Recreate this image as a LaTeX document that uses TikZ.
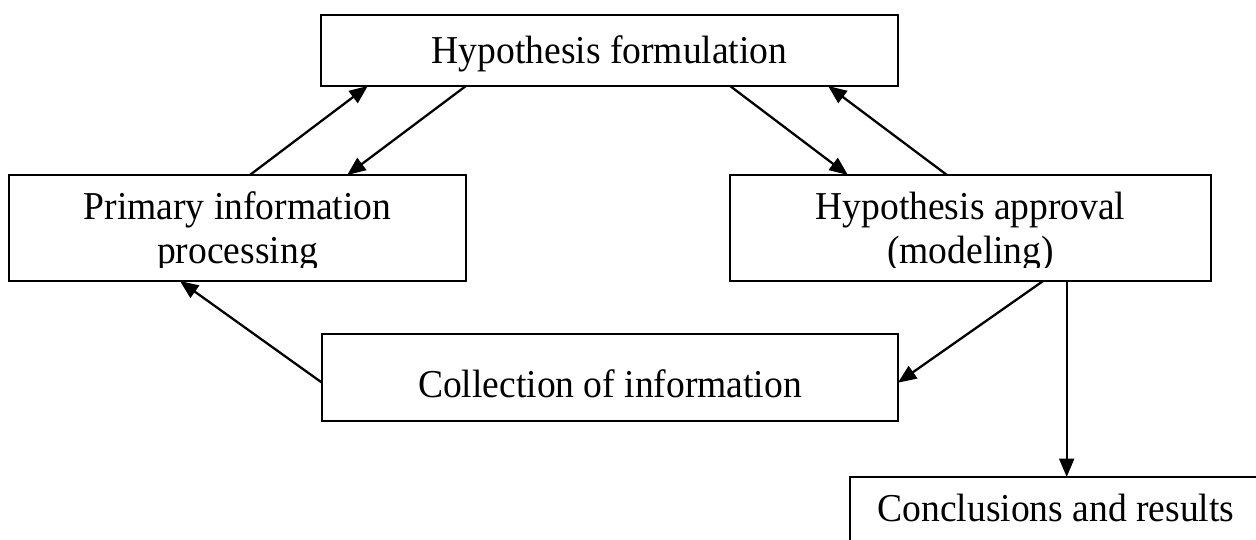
\documentclass[tikz,border=0pt]{standalone}
\usepackage{fontspec}
\setmainfont{Liberation Serif}[FakeStretch=0.95]
\usepackage{tikz}
\usetikzlibrary{arrows.meta, calc}
\tikzstyle{stage} = [
    rectangle,
    draw=black,
    line width=1.1pt,
    inner sep=0pt,
    outer sep=0pt,
    align=center,
    font=\fontsize{22.5}{25.5}\selectfont
]
\tikzstyle{arrow} = [
    line width=1.3pt,
    -{Triangle[length=10.5pt, width=8.5pt]},
    color=black
]
\begin{document}
\begin{tikzpicture}[x=0.02cm, y=-0.02cm]
        \clip (0,0) rectangle (1256,540);
        % Top row
        \node[stage, minimum width=11.54cm, minimum height=1.42cm, text height=20pt, text depth=4.7pt] (form) at (609.5, 50.5) {Hypothesis formulation};

        % Middle row
        \node[stage, minimum width=9.14cm, minimum height=2.12cm, text height=42.2pt, text depth=1.4pt] (prim) at (237.5, 228) {Primary information\\processing};
        \node[stage, minimum width=9.62cm, minimum height=2.12cm, text height=42.2pt, text depth=1.4pt] (appr) at (970.5, 228) {Hypothesis approval\\(modeling)};

        % Bottom rows
        \node[stage, minimum width=11.52cm, minimum height=1.74cm, text height=23.2pt, text depth=0pt] (coll) at (610, 377.5) {Collection of information};
        \node[stage, minimum width=8.24cm, minimum height=1.32cm, text height=13.6pt, text depth=0pt] (concl) at (1056, 510) {Conclusions and results};

        % cut-off text lines
        \fill[white] ([xshift=1pt, yshift=0.8pt]prim.south west) rectangle ([xshift=-1pt, yshift=7.4pt]prim.south east);
        \fill[white] ([xshift=1pt, yshift=0.8pt]appr.south west) rectangle ([xshift=-1pt, yshift=7.4pt]appr.south east);

        % Connections
        \draw[arrow] ($(prim.north west)!0.527!(prim.north east)$) -- ($(form.south west)!0.081!(form.south east)$);
        \draw[arrow] ($(form.south west)!0.251!(form.south east)$) -- ($(prim.north west)!0.740!(prim.north east)$);
        \draw[arrow] ($(form.south west)!0.709!(form.south east)$) -- ($(appr.north west)!0.245!(appr.north east)$);
        \draw[arrow] ($(appr.north west)!0.451!(appr.north east)$) -- ($(form.south west)!0.879!(form.south east)$);
        \draw[arrow] ($(coll.north west)!0.56!(coll.south west)$) -- ($(prim.south west)!0.374!(prim.south east)$);
        \draw[arrow] ($(appr.south west)!0.651!(appr.south east)$) -- ($(coll.north east)!0.56!(coll.south east)$);
        \coordinate (split) at ($(appr.south west)!0.70!(appr.south east)$);
        \draw[arrow] (split) -- (split |- concl.north);
    \end{tikzpicture}
\end{document}
